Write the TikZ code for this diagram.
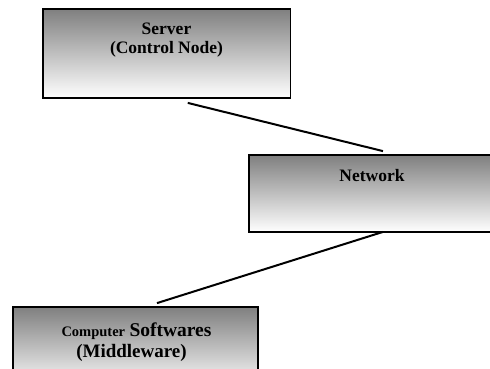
\documentclass[tikz,border=0pt]{standalone}
\usepackage{fontspec}
\setmainfont{Liberation Serif}
\usetikzlibrary{calc}
\begin{document}
\begin{tikzpicture}[x=1pt,y=-1pt,
  box/.style={draw=black,line width=1.8pt,top color=gray,bottom color=white,inner sep=0pt,rectangle},
  link/.style={draw=black,line width=2pt},
  lbl/.style={anchor=base,inner sep=0pt,font=\bfseries\fontsize{17.5}{20}\selectfont}
]
\useasboundingbox (0,0) rectangle (490,369);
\clip (0,0) rectangle (490,369);
\fill[white] (0,0) rectangle (490,369);

\node[box,minimum width=247.5pt,minimum height=89pt] (server) at (166.75,53.5) {};
\node[box,minimum width=247pt,minimum height=77pt] (net) at (372.5,193.5) {};
\node[box,minimum width=245pt,minimum height=83pt] (comp) at (135.5,348.5) {};

\node[lbl] (t1) at (166.5,35) {Server};
\node[lbl] (t2) at (166.5,54) {(Control Node)};
\node[lbl] (t3) at (372,181) {Network};
\node[lbl] (t4) at (136.5,336) {{\fontsize{14.5}{17}\selectfont Computer} {\fontsize{19.5}{22}\selectfont Softwares}};
\node[lbl,font=\bfseries\fontsize{19}{22}\selectfont] (t5) at (131.5,357) {(Middleware)};

\coordinate (a1) at ($(server.south)+(21,4)$);
\coordinate (a2) at ($(net.north)+(10.5,-3)$);
\coordinate (b1) at ($(net.south)+(10.5,-1)$);
\coordinate (b2) at ($(comp.north)+(21.5,-3)$);
\draw[link] (a1) -- (a2);
\draw[link] (b1) -- (b2);
\end{tikzpicture}
\end{document}
